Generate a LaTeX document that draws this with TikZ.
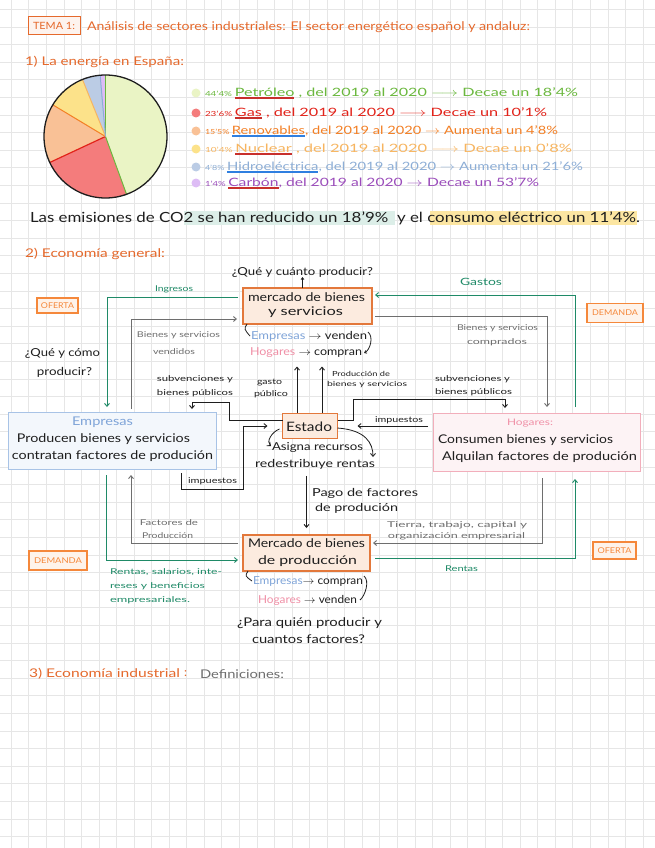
\documentclass[tikz,border=0pt]{standalone}
\usepackage{fontspec}
\setmainfont{Lato}
\usepackage{graphicx}
\usetikzlibrary{arrows.meta,calc}
\definecolor{tema}{HTML}{E5692C}
\definecolor{boxor}{HTML}{E3783B}
\definecolor{boxfill}{HTML}{FCEBDF}
\definecolor{tagor}{HTML}{F5883B}
\definecolor{tagfill}{HTML}{FEF3EA}
\definecolor{grn}{HTML}{1F8A67}
\definecolor{gry}{HTML}{6E6E6E}
\definecolor{ink}{HTML}{1E1E1E}
\definecolor{eblue}{HTML}{7FA4D8}
\definecolor{eboxb}{HTML}{A8C3E6}
\definecolor{eboxf}{HTML}{F3F7FC}
\definecolor{hpink}{HTML}{F08FA6}
\definecolor{hboxb}{HTML}{F2AEBB}
\definecolor{hboxf}{HTML}{FDF3F5}
\definecolor{gridc}{HTML}{E6E6E6}
\definecolor{pPet}{HTML}{EAF4C5}
\definecolor{lPet}{HTML}{6BB83E}
\definecolor{pGas}{HTML}{F47C7C}
\definecolor{lGas}{HTML}{E2231A}
\definecolor{pRen}{HTML}{F9C196}
\definecolor{lRen}{HTML}{F37F24}
\definecolor{pNuc}{HTML}{FCE28A}
\definecolor{lNuc}{HTML}{F7B560}
\definecolor{pHid}{HTML}{BBCCE5}
\definecolor{lHid}{HTML}{8DAED6}
\definecolor{pCar}{HTML}{DDBCF5}
\definecolor{lCar}{HTML}{9B4DBB}
\definecolor{ulred}{HTML}{C8302C}
\definecolor{ulblue}{HTML}{2F7FE0}
\definecolor{hlteal}{HTML}{DCEEE8}
\definecolor{hlyel}{HTML}{FCE6A2}
\newcommand\cul[2]{\begingroup\setbox0\hbox{#2}\rlap{\textcolor{#1}{\rule[-0.4ex]{\wd0}{1.1pt}}}\box0\endgroup}
\newcommand\fit[2]{\resizebox{#1pt}{\height}{#2}}
\newcommand\fs[1]{\fontsize{#1}{#1}\selectfont}
\begin{document}
\begin{tikzpicture}[x=1pt,y=-1pt,
  every node/.style={inner sep=0pt, outer sep=0pt, text=ink},
  arr/.style={-{Straight Barb[length=3pt,width=5pt]}, line width=0.9pt},
  gline/.style={arr, draw=grn},
  yline/.style={arr, draw=gry},
  kline/.style={arr, draw=ink},
  obox/.style={draw=boxor, fill=boxfill, line width=1.2pt},
  tagbox/.style={draw=tagor, fill=tagfill, line width=1.1pt, text=tagor, font=\fs{8}},
  lab/.style={anchor=west},
  small/.style={font=\fs{8}},
  big/.style={font=\fs{12}},
]
\useasboundingbox (0,0) rectangle (655,848);
\fill[white] (0,0) rectangle (655,848);
\foreach \i in {0,...,37} \draw[gridc, line width=0.7pt] (\i*17.55+11.2,0) -- (\i*17.55+11.2,848);
\foreach \j in {0,...,48} \draw[gridc, line width=0.7pt] (0,\j*17.6+9.3) -- (655,\j*17.6+9.3);

% ---------- header ----------
\node[draw=tema, line width=1pt, fill=tema!8, minimum width=52, minimum height=18, font=\fs{10}, text=tema] (tema) at (54,25.5) {\fit{42}{TEMA 1:}};
\node[lab, font=\fs{12}, text=tema] (title) at (87,27) {\fit{443}{Análisis de sectores industriales: El sector energético español y andaluz:}};
\node[lab, font=\fs{12}, text=tema] (s1) at (25,62) {\fit{159}{1) La energía en España:}};

% ---------- pie ----------
\begin{scope}[shift={(105.5,136.5)}, y=1pt]
\fill[pPet] (0,0) -- (90:61.5) arc[start angle=90, end angle=-70, radius=61.5] -- cycle;
\fill[pGas] (0,0) -- (-70:61.5) arc[start angle=-70, end angle=-155, radius=61.5] -- cycle;
\fill[pRen] (0,0) -- (-155:61.5) arc[start angle=-155, end angle=-211, radius=61.5] -- cycle;
\fill[pNuc] (0,0) -- (-211:61.5) arc[start angle=-211, end angle=-248, radius=61.5] -- cycle;
\fill[pHid] (0,0) -- (-248:61.5) arc[start angle=-248, end angle=-265, radius=61.5] -- cycle;
\fill[pCar] (0,0) -- (-265:61.5) arc[start angle=-265, end angle=-270, radius=61.5] -- cycle;
\draw[lPet, line width=1pt] (0,0) -- (90:61.5);
\draw[lPet, line width=1pt] (0,0) -- (-70:61.5);
\draw[lGas, line width=1.2pt] (0,0) -- (-155:61.5);
\draw[lRen, line width=1pt] (0,0) -- (-211:61.5);
\draw[lNuc, line width=1pt] (0,0) -- (-248:61.5);
\draw[lHid, line width=1pt] (0,0) -- (-265:61.5);
\draw[ink, line width=1.3pt] (0,0) circle (61.5);
\end{scope}

% ---------- legend ----------
\foreach \yy/\fc in {93/pPet,113/pGas,131/pRen,149/pNuc,167/pHid,183/pCar}
  \fill[\fc] (196,\yy) circle (4.5);
\node[lab, font=\fs{11.5}, text=lPet] (l1) at (205,93) {\fit{373}{{\fs{7}44'4\%}\,\cul{ulred}{Petróleo} , del 2019 al 2020 $\longrightarrow$ Decae un 18'4\%}};
\node[lab, font=\fs{11.5}, text=lGas] (l2) at (205,113) {\fit{342}{{\fs{7}23'6\%}\,\cul{ulred}{Gas} , del 2019 al 2020 $\longrightarrow$ Decae un 10'1\%}};
\node[lab, font=\fs{11.5}, text=lRen] (l3) at (205,131) {\fit{353}{{\fs{7}15'5\%}\,\cul{ulblue}{Renovables}, del 2019 al 2020 $\rightarrow$ Aumenta un 4'8\%}};
\node[lab, font=\fs{11.5}, text=lNuc] (l4) at (205,149) {\fit{367}{{\fs{7}10'4\%}\,\cul{ulred}{Nuclear} , del 2019 al 2020 $\longrightarrow$ Decae un 0'8\%}};
\node[lab, font=\fs{11.5}, text=lHid] (l5) at (205,167) {\fit{378}{{\fs{7}4'8\%}\,\cul{ulblue}{Hidroeléctrica}, del 2019 al 2020 $\rightarrow$ Aumenta un 21'6\%}};
\node[lab, font=\fs{11.5}, text=lCar] (l6) at (205,183) {\fit{334}{{\fs{7}1'4\%}\,\cul{ulred}{Carbón}, del 2019 al 2020 $\rightarrow$ Decae un 53'7\%}};

% ---------- emissions ----------
\fill[hlteal] (184,211) rectangle (395,225);
\fill[hlyel] (430,211) rectangle (637,225);
\node[lab, font=\fs{14}] (emis) at (30,218) {\fit{610}{Las emisiones de CO2 se han reducido un 18'9\% \ y el consumo eléctrico un 11'4\%.}};

\node[lab, font=\fs{12}, text=tema] (s2) at (25,254) {\fit{140}{2) Economía general:}};

% ---------- diagram: nodes ----------
\node[font=\fs{11}] (q1) at (302.5,272) {\fit{141}{¿Qué y cuánto producir?}};
\node[obox, minimum width=129, minimum height=36] (mb) at (307.5,306) {};
\node[big] (mbt1) at (306.5,297.5) {\fit{117}{mercado de bienes}};
\node[big] (mbt2) at (305.5,312.5) {\fit{75}{y servicios}};
\node[lab, font=\fs{11}] (mbE) at (251,336) {\fit{116}{\textcolor{eblue}{Empresas} $\rightarrow$ venden}};
\node[lab, font=\fs{11}] (mbH) at (250,353) {\fit{112}{\textcolor{hpink}{Hogares} $\rightarrow$ compran}};

\node[tagbox, minimum width=41, minimum height=15] (of1) at (57.5,305.5) {\fit{33}{OFERTA}};
\node[tagbox, minimum width=56, minimum height=19] (de1) at (615,313) {\fit{46}{DEMANDA}};
\node[tagbox, minimum width=58, minimum height=19] (de2) at (58,560.5) {\fit{48}{DEMANDA}};
\node[tagbox, minimum width=43, minimum height=17] (of2) at (614.5,550.5) {\fit{34}{OFERTA}};

\node[font=\fs{11}] (qc1) at (62.5,353) {\fit{75}{¿Qué y cómo}};
\node[font=\fs{11}] (qc2) at (64.5,372) {\fit{55}{producir?}};

\node[small, text=grn] (ing) at (174,289) {\fit{38}{Ingresos}};
\node[font=\fs{10}, text=grn] (gas) at (481,282) {\fit{42}{Gastos}};
\node[small, text=gry] (bv1) at (178.5,335) {\fit{83}{Bienes y servicios}};
\node[small, text=gry] (bv2) at (174,352) {\fit{42}{vendidos}};
\node[small, text=gry] (bc1) at (497.5,328) {\fit{81}{Bienes y servicios}};
\node[small, text=gry] (bc2) at (497,342) {\fit{60}{comprados}};

\node[small] (sl1) at (195,379) {\fit{76}{subvenciones y}};
\node[small] (sl2) at (195,393) {\fit{76}{bienes públicos}};
\node[small] (gp1) at (269.5,383) {\fit{25}{gasto}};
\node[small] (gp2) at (271,394) {\fit{34}{público}};
\node[font=\fs{7}] (pr1) at (361,374) {\fit{58}{Producción de}};
\node[font=\fs{7}] (pr2) at (367,385) {\fit{80}{bienes y servicios}};
\node[small] (sr1) at (472.5,379) {\fit{75}{subvenciones y}};
\node[small] (sr2) at (473.5,392) {\fit{77}{bienes públicos}};
\node[small] (imr) at (399,420) {\fit{48}{impuestos}};

\node[draw=eboxb, fill=eboxf, line width=1pt, minimum width=208, minimum height=57] (emp) at (112,440.5) {};
\node[font=\fs{12}, text=eblue] (empt) at (102.5,422) {\fit{61}{Empresas}};
\node[font=\fs{12}] (emp1) at (103.5,439) {\fit{173}{Producen bienes y servicios}};
\node[font=\fs{12}] (emp2) at (112.5,456) {\fit{201}{contratan factores de produción}};

\node[draw=hboxb, fill=hboxf, line width=1pt, minimum width=207, minimum height=58] (hog) at (536.5,442) {};
\node[font=\fs{9}, text=hpink] (hogt) at (530,423) {\fit{46}{Hogares:}};
\node[font=\fs{12}] (hog1) at (525.5,440) {\fit{175}{Consumen bienes y servicios}};
\node[font=\fs{12}] (hog2) at (539.5,457) {\fit{195}{Alquilan factores de produción}};

\node[obox, minimum width=55, minimum height=25] (est) at (310,426) {};
\node[font=\fs{13}] (estt) at (309,427) {\fit{46}{Estado}};
\node[lab, font=\fs{11}] (asg) at (272,447) {\fit{91}{Asigna recursos}};
\node[lab, font=\fs{11}] (red) at (255,464) {\fit{120}{redestribuye rentas}};
\node[small] (iml) at (212.5,481) {\fit{49}{impuestos}};

\node[lab, font=\fs{11}] (pg1) at (312,493) {\fit{106}{Pago de factores}};
\node[lab, font=\fs{11}] (pg2) at (315,508) {\fit{83}{de produción}};

\node[small, text=gry] (fp1) at (169,523) {\fit{58}{Factores de}};
\node[small, text=gry] (fp2) at (167.5,536) {\fit{51}{Producción}};
\node[small, text=gry] (tt1) at (457,525) {\fit{140}{Tierra, trabajo, capital y}};
\node[small, text=gry] (tt2) at (456.5,536) {\fit{137}{organización empresarial}};

\node[obox, minimum width=127, minimum height=36] (mf) at (306.5,553) {};
\node[big] (mft1) at (306.5,543.5) {\fit{117}{Mercado de bienes}};
\node[big] (mft2) at (307.5,561.5) {\fit{99}{de producción}};
\node[lab, font=\fs{11}] (mfE) at (253,581) {\fit{110}{\textcolor{eblue}{Empresas}$\rightarrow$ compran}};
\node[lab, font=\fs{11}] (mfH) at (258,600) {\fit{99}{\textcolor{hpink}{Hogares} $\rightarrow$ venden}};
\node[font=\fs{12}] (qp1) at (309.5,623) {\fit{145}{¿Para quién producir y}};
\node[font=\fs{12}] (qp2) at (308.5,639) {\fit{113}{cuantos factores?}};

\node[lab, small, text=grn] (rs1) at (110,572) {\fit{112}{Rentas, salarios, inte-}};
\node[lab, small, text=grn] (rs2) at (110,586) {\fit{95}{reses y beneficios}};
\node[lab, small, text=grn] (rs3) at (110,600) {\fit{80}{empresariales.}};
\node[small, text=grn] (rent) at (461.5,569) {\fit{33}{Rentas}};

\node[lab, font=\fs{12}, text=tema] (s3) at (29,674) {\fit{151}{3) Economía industrial}};
\node[lab, font=\fs{12}, text=tema] (s3c) at (184,674) {:};
\node[lab, font=\fs{12}, text=gry] (def) at (200,674) {\fit{84}{Definiciones:}};

% ---------- connectors ----------
\draw[kline, line width=0.7pt, -{Straight Barb[length=2pt,width=3pt]}] (mb.north -| q1) -- (q1.south);
\draw[gline, shorten <=5pt, shorten >=5pt] ([yshift=9pt]mb.west) -| ([xshift=-5pt]emp.north);
\draw[yline, shorten <=3pt, shorten >=6pt] ([xshift=19pt]emp.north) |- ([yshift=-13pt]mb.west);
\draw[gline, shorten <=6pt, shorten >=3pt] ([xshift=38.5pt]hog.north) |- ([yshift=11pt]mb.east);
\draw[yline, shorten <=3pt, shorten >=6pt] ([yshift=-10pt]mb.east) -| ([xshift=10.5pt]hog.north);

\draw[ink, line width=0.8pt] ([xshift=4pt]mb.south west) .. controls +(-3,5) .. ([xshift=-1pt]mbE.west);
\draw[ink, line width=0.8pt, -{Straight Barb[length=2pt,width=3pt]}] ([xshift=1pt,yshift=4pt]mbE.east) .. controls +(6,5) and +(6,-3) .. ([xshift=2pt]mbH.east);

\draw[kline, shorten <=1pt] ([xshift=-13pt]est.north) -- ++(0,-47);
\draw[kline, shorten <=1pt] ([xshift=12pt]est.north) -- ++(0,-47);
\draw[kline, shorten >=3pt] ([yshift=6pt]est.west) -- ++(-53,0) -- ++(0,-18) -| ([xshift=80pt]emp.north);
\draw[kline, shorten >=5pt] ([yshift=6pt]est.east) -- ++(16,0) -- ++(0,-21) -| ([xshift=-31.5pt]hog.north);
\draw[kline, shorten <=5pt, shorten >=20pt] (hog.west |- est.east) -- (est.east);
\draw[kline, shorten <=4pt, shorten >=15pt] ([xshift=69pt]emp.south) -- ++(0,20) -- ++(62,0) |- (est.west);
\draw[kline, line width=0.8pt] ([xshift=-3pt,yshift=-3pt]est.west) .. controls +(-8,3) and +(-5,-4) .. ([xshift=-1pt,yshift=1pt]asg.west);
\draw[kline, line width=0.8pt] ([yshift=-2pt]est.east) .. controls +(28,2) and +(0,-14) .. ([xshift=-2pt,yshift=2pt]red.north east);
\draw[kline, shorten <=7pt, shorten >=7pt] (mf.north |- red.south) -- (mf.north);

\draw[yline, shorten <=5pt, shorten >=6pt] ([yshift=10pt]mf.west) -| ([xshift=19pt]emp.south);
\draw[gline, shorten <=6pt, shorten >=5pt] ([xshift=-6pt]emp.south) |- ([yshift=-7pt]mf.west);
\draw[yline, shorten <=7pt, shorten >=3pt] ([xshift=5.5pt]hog.south) |- ([yshift=10pt]mf.east);
\draw[gline, shorten <=5pt, shorten >=8pt] ([yshift=-5pt]mf.east) -| ([xshift=38.5pt]hog.south);

\draw[ink, line width=0.8pt] ([xshift=5pt]mf.south west) .. controls +(-3,5) .. ([xshift=-1pt]mfE.west);
\draw[ink, line width=0.8pt] ([xshift=1pt,yshift=5pt]mfE.east) .. controls +(6,5) and +(5,-4) .. ([xshift=3pt]mfH.east);
\end{tikzpicture}
\end{document}
